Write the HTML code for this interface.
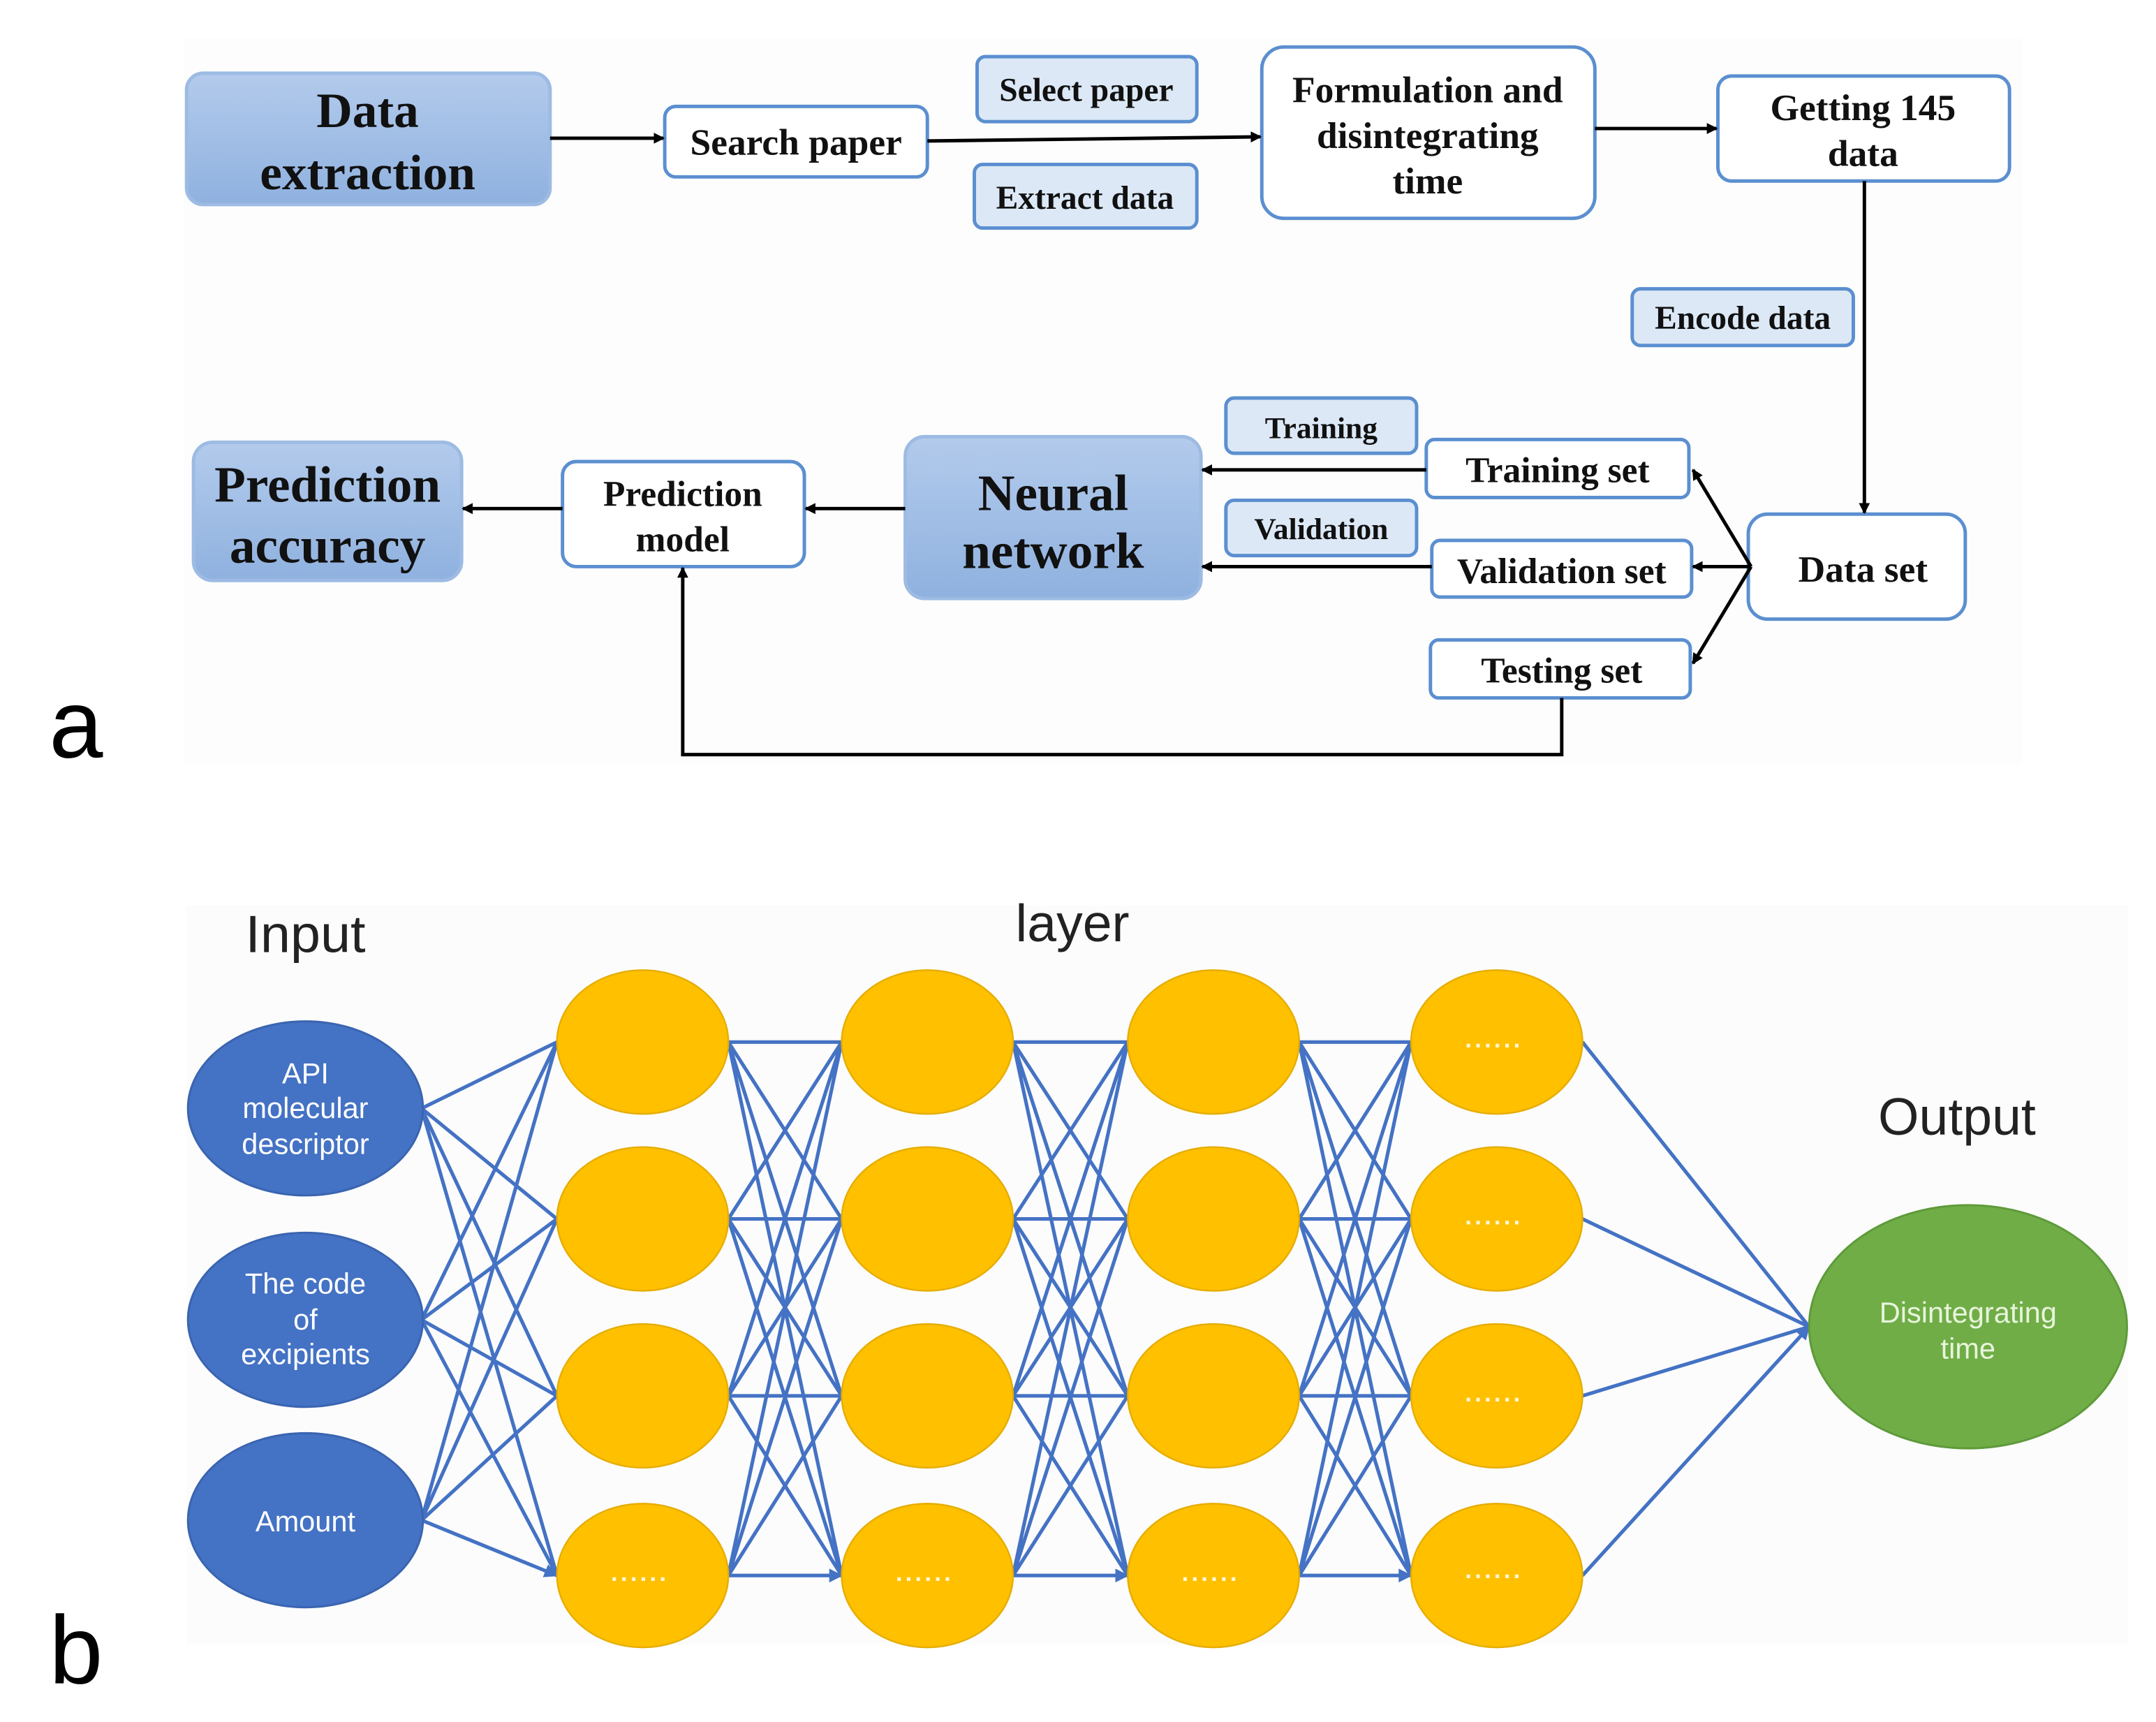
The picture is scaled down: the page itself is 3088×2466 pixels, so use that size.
<!DOCTYPE html>
<html><head><meta charset="utf-8"><style>
html,body{margin:0;padding:0;background:#fff;}
svg{display:block;}
.s{font-family:"Liberation Serif",serif;font-weight:bold;fill:#111;text-anchor:middle;}
.n{font-family:"Liberation Sans",sans-serif;text-anchor:middle;}
</style></head><body>
<svg width="3088" height="2466" viewBox="0 0 1560 1246" preserveAspectRatio="none" xmlns="http://www.w3.org/2000/svg">
<defs>
<linearGradient id="bg" x1="0" y1="0" x2="0" y2="1"><stop offset="0" stop-color="#b3cbec"/><stop offset="1" stop-color="#8fb1df"/></linearGradient>
<marker id="ak" markerWidth="8" markerHeight="8" refX="7" refY="4" orient="auto" markerUnits="userSpaceOnUse"><path d="M0,0 L8,4 L0,8 z" fill="#000"/></marker>
<marker id="ab" markerWidth="10" markerHeight="10" refX="9" refY="5" orient="auto" markerUnits="userSpaceOnUse"><path d="M0,0 L10,5 L0,10 z" fill="#4472c4"/></marker>
</defs>
<rect x="0" y="0" width="1560" height="1246" fill="#fff"/>
<rect x="133" y="28" width="1330" height="525" fill="#fdfdfd"/>
<g stroke="#5b8fd0" stroke-width="2.5">
<rect x="135" y="53" width="263" height="95" rx="12" fill="url(#bg)" stroke="#9dbbe3"/>
<rect x="481" y="77" width="190" height="51" rx="8" fill="#fff"/>
<rect x="707" y="41" width="159" height="47" rx="6" fill="#dce8f6"/>
<rect x="705" y="119" width="161" height="46" rx="6" fill="#dce8f6"/>
<rect x="913" y="34" width="241" height="124" rx="16" fill="#fff"/>
<rect x="1243" y="55" width="211" height="76" rx="10" fill="#fff"/>
<rect x="1181" y="209" width="160" height="41" rx="6" fill="#dce8f6"/>
<rect x="1265" y="372" width="157" height="76" rx="14" fill="#fff"/>
<rect x="1032" y="318" width="190" height="42" rx="6" fill="#fff"/>
<rect x="1036" y="391" width="188" height="41" rx="6" fill="#fff"/>
<rect x="1035" y="463" width="188" height="42" rx="6" fill="#fff"/>
<rect x="887" y="288" width="138" height="40" rx="6" fill="#dce8f6"/>
<rect x="887" y="362" width="138" height="40" rx="6" fill="#dce8f6"/>
<rect x="655" y="316" width="214" height="117" rx="14" fill="url(#bg)" stroke="#9dbbe3"/>
<rect x="407" y="334" width="175" height="76" rx="10" fill="#fff"/>
<rect x="140" y="320" width="194" height="100" rx="14" fill="url(#bg)" stroke="#9dbbe3"/>
</g>
<g class="s">
<text x="266" y="92" font-size="36">Data</text>
<text x="266" y="137" font-size="36">extraction</text>
<text x="576" y="112" font-size="27">Search paper</text>
<text x="786" y="73" font-size="24">Select paper</text>
<text x="785" y="151" font-size="24">Extract data</text>
<text x="1033" y="74" font-size="27">Formulation and</text>
<text x="1033" y="107" font-size="27">disintegrating</text>
<text x="1033" y="140" font-size="27">time</text>
<text x="1348" y="87" font-size="27">Getting 145</text>
<text x="1348" y="120" font-size="27">data</text>
<text x="1261" y="238" font-size="24">Encode data</text>
<text x="1348" y="421" font-size="27">Data set</text>
<text x="1127" y="349" font-size="26">Training set</text>
<text x="1130" y="422" font-size="26">Validation set</text>
<text x="1130" y="494" font-size="26">Testing set</text>
<text x="956" y="317" font-size="22">Training</text>
<text x="956" y="390" font-size="22">Validation</text>
<text x="762" y="369" font-size="37">Neural</text>
<text x="762" y="411" font-size="37">network</text>
<text x="494" y="366" font-size="26">Prediction</text>
<text x="494" y="399" font-size="26">model</text>
<text x="237" y="363" font-size="37">Prediction</text>
<text x="237" y="407" font-size="37">accuracy</text>
</g>
<g stroke="#000" stroke-width="2.5" fill="none" marker-end="url(#ak)">
<line x1="398" y1="100" x2="480" y2="100"/>
<line x1="671" y1="102" x2="912" y2="99"/>
<line x1="1154" y1="93" x2="1242" y2="93"/>
<line x1="1349" y1="131" x2="1349" y2="371"/>
<line x1="1267" y1="410" x2="1225" y2="340"/>
<line x1="1267" y1="410" x2="1225" y2="410"/>
<line x1="1267" y1="410" x2="1225" y2="480"/>
<line x1="1032" y1="340" x2="870" y2="340"/>
<line x1="1036" y1="410" x2="870" y2="410"/>
<line x1="655" y1="368" x2="583" y2="368"/>
<line x1="407" y1="368" x2="335" y2="368"/>
<polyline points="1130,505 1130,546 494,546 494,411"/>
</g>
<text x="55" y="548" font-family="Liberation Sans,sans-serif" font-size="70" text-anchor="middle" fill="#000">a</text>
<rect x="135" y="655" width="1405" height="535" fill="#fcfcfc"/>
<g class="n" font-size="38" fill="#222">
<text x="221" y="689" textLength="87" lengthAdjust="spacingAndGlyphs">Input</text>
<text x="776" y="681">layer</text>
<text x="1416" y="821">Output</text>
</g>
<g stroke="#4472c4" stroke-width="2.6" fill="none" marker-end="url(#ab)">
<path d="M305,802L403,754M305,802L403,882M305,802L403,1010M305,802L403,1140M305,955L403,754M305,955L403,882M305,955L403,1010M305,955L403,1140M305,1100L403,754M305,1100L403,882M305,1100L403,1010M305,1100L403,1140"/>
<path d="M527,754L609,754M527,754L609,882M527,754L609,1010M527,754L609,1140M527,882L609,754M527,882L609,882M527,882L609,1010M527,882L609,1140M527,1010L609,754M527,1010L609,882M527,1010L609,1010M527,1010L609,1140M527,1140L609,754M527,1140L609,882M527,1140L609,1010M527,1140L609,1140"/>
<path d="M733,754L816,754M733,754L816,882M733,754L816,1010M733,754L816,1140M733,882L816,754M733,882L816,882M733,882L816,1010M733,882L816,1140M733,1010L816,754M733,1010L816,882M733,1010L816,1010M733,1010L816,1140M733,1140L816,754M733,1140L816,882M733,1140L816,1010M733,1140L816,1140"/>
<path d="M940,754L1021,754M940,754L1021,882M940,754L1021,1010M940,754L1021,1140M940,882L1021,754M940,882L1021,882M940,882L1021,1010M940,882L1021,1140M940,1010L1021,754M940,1010L1021,882M940,1010L1021,1010M940,1010L1021,1140M940,1140L1021,754M940,1140L1021,882M940,1140L1021,1010M940,1140L1021,1140"/>
<path d="M1145,754L1309,960M1145,882L1309,960M1145,1010L1309,960M1145,1140L1309,960"/>
</g>
<g fill="#4472c4" stroke="#3a64b0" stroke-width="1.5">
<ellipse cx="221" cy="802" rx="85" ry="63"/>
<ellipse cx="221" cy="955" rx="85" ry="63"/>
<ellipse cx="221" cy="1100" rx="85" ry="63"/>
</g>
<g class="n" fill="#fff" font-size="21">
<text x="221" y="784">API</text><text x="221" y="809">molecular</text><text x="221" y="835">descriptor</text>
<text x="221" y="936">The code</text><text x="221" y="962">of</text><text x="221" y="987">excipients</text>
<text x="221" y="1108">Amount</text>
</g>
<g fill="#ffc000" stroke="#e6ad00" stroke-width="1.2">
<ellipse cx="465" cy="754" rx="62" ry="52"/><ellipse cx="465" cy="882" rx="62" ry="52"/><ellipse cx="465" cy="1010" rx="62" ry="52"/><ellipse cx="465" cy="1140" rx="62" ry="52"/>
<ellipse cx="671" cy="754" rx="62" ry="52"/><ellipse cx="671" cy="882" rx="62" ry="52"/><ellipse cx="671" cy="1010" rx="62" ry="52"/><ellipse cx="671" cy="1140" rx="62" ry="52"/>
<ellipse cx="878" cy="754" rx="62" ry="52"/><ellipse cx="878" cy="882" rx="62" ry="52"/><ellipse cx="878" cy="1010" rx="62" ry="52"/><ellipse cx="878" cy="1140" rx="62" ry="52"/>
<ellipse cx="1083" cy="754" rx="62" ry="52"/><ellipse cx="1083" cy="882" rx="62" ry="52"/><ellipse cx="1083" cy="1010" rx="62" ry="52"/><ellipse cx="1083" cy="1140" rx="62" ry="52"/>
</g>
<g class="n" fill="#fff7d6" font-size="18" font-weight="bold" letter-spacing="2">
<text x="463" y="1144">......</text><text x="669" y="1144">......</text><text x="876" y="1144">......</text>
<text x="1081" y="758">......</text><text x="1081" y="886">......</text><text x="1081" y="1014">......</text><text x="1081" y="1142">......</text>
</g>
<ellipse cx="1424" cy="960" rx="115" ry="88" fill="#70ad47" stroke="#5e9a3a" stroke-width="1.5"/>
<g class="n" fill="#e8f5dc" font-size="21">
<text x="1424" y="957">Disintegrating</text><text x="1424" y="983">time</text>
</g>
<text x="55" y="1218" font-family="Liberation Sans,sans-serif" font-size="70" text-anchor="middle" fill="#000">b</text>
</svg>
</body></html>
